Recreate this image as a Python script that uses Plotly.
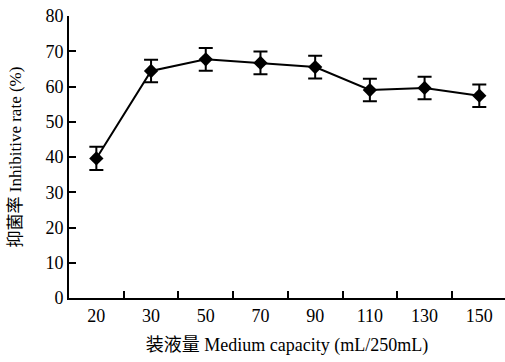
import plotly.graph_objects as go

# Medium volume per 250 mL flask and the resulting inhibition rate
capacity = ["20", "30", "50", "70", "90", "110", "130", "150"]
inhibition = [39.6, 64.4, 67.7, 66.7, 65.5, 59.0, 59.6, 57.4]
error = [3.3, 3.2, 3.2, 3.2, 3.2, 3.2, 3.2, 3.2]

FONT = "Liberation Serif, Times New Roman, Noto Sans CJK SC, serif"

fig = go.Figure(
    go.Scatter(
        x=capacity,
        y=inhibition,
        mode="lines+markers",
        line=dict(color="black", width=2),
        marker=dict(symbol="diamond", size=11, color="black"),
        error_y=dict(type="data", array=error, visible=True,
                     color="black", thickness=2, width=7),
        showlegend=False,
    )
)

fig.update_layout(
    width=505,
    height=362,
    margin=dict(l=69, r=0, t=16, b=64),
    paper_bgcolor="white",
    plot_bgcolor="white",
    font=dict(family=FONT, size=18, color="black"),
)

fig.update_xaxes(
    type="category",
    range=[-0.5, 7.47],
    tickson="boundaries",
    ticks="inside",
    ticklen=7,
    tickwidth=2,
    tickcolor="black",
    showline=True,
    linecolor="black",
    linewidth=2,
    showgrid=False,
    zeroline=False,
    tickfont=dict(size=18),
    title=dict(text="装液量 Medium capacity (mL/250mL)",
               font=dict(size=18), standoff=14),
)

fig.update_yaxes(
    range=[0, 80],
    dtick=10,
    ticks="inside",
    ticklen=7,
    tickwidth=2,
    tickcolor="black",
    showline=True,
    linecolor="black",
    linewidth=2,
    showgrid=False,
    zeroline=False,
    tickfont=dict(size=18),
    title=dict(text="抑菌率 Inhibitive rate (%)",
               font=dict(size=17), standoff=19),
)

fig.write_html("out.html")
